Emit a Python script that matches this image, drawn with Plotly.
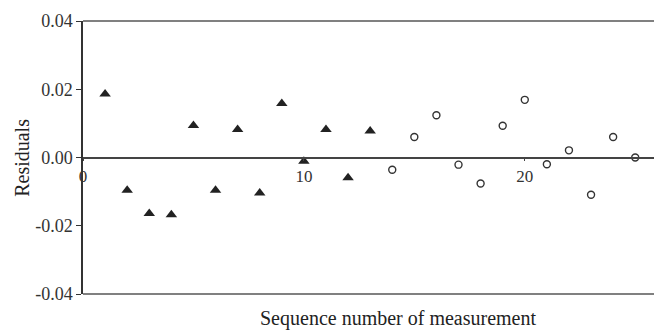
import plotly.graph_objects as go

# Data
tri_x = [1, 2, 3, 4, 5, 6, 7, 8, 9, 10, 11, 12, 13]
tri_y = [0.0186, -0.0096, -0.0164, -0.0168, 0.0094, -0.0096, 0.0082,
         -0.0104, 0.0158, -0.0011, 0.0082, -0.0059, 0.0078]
circ_x = [14, 15, 16, 17, 18, 19, 20, 21, 22, 23, 24, 25]
circ_y = [-0.0036, 0.0060, 0.0124, -0.0021, -0.0076, 0.0093, 0.0169,
          -0.0020, 0.0021, -0.0109, 0.0060, 0.0000]
x_ticks = [0, 10, 20]
y_ticks = [-0.04, -0.02, 0.0, 0.02, 0.04]
y_tick_text = ["-0.04", "-0.02", "0.00", "0.02", "0.04"]

FONT = "Liberation Serif, Times New Roman, serif"

fig = go.Figure()
fig.add_trace(go.Scatter(
    x=tri_x, y=tri_y, mode="markers",
    marker=dict(symbol="triangle-up", size=10, color="#222222"),
    showlegend=False, cliponaxis=False))
fig.add_trace(go.Scatter(
    x=circ_x, y=circ_y, mode="markers",
    marker=dict(symbol="circle-open", size=7, color="#333333",
                line=dict(width=1.4, color="#333333")),
    showlegend=False, cliponaxis=False))

fig.update_layout(
    width=655, height=333,
    margin=dict(l=83, r=1, t=21, b=39, autoexpand=False),
    plot_bgcolor="white", paper_bgcolor="white",
    font=dict(family=FONT, size=18, color="#333333"),
    xaxis=dict(
        range=[0, 25.85], tickvals=x_ticks, ticktext=[str(v) for v in x_ticks],
        anchor="free", position=0.5, showline=True, linecolor="#444444",
        linewidth=1.5, ticks="outside", ticklen=3, tickwidth=1,
        tickcolor="#444444", showgrid=False, zeroline=False, automargin=False,
        tickfont=dict(size=17, color="#333333")),
    yaxis=dict(
        range=[-0.04, 0.04], tickvals=y_ticks, ticktext=y_tick_text,
        showline=True, linecolor="#333333", linewidth=1.5,
        ticks="outside", ticklen=5, tickcolor="#333333", automargin=False,
        showgrid=False, zeroline=False,
        tickfont=dict(size=18, color="#333333")),
    shapes=[
        dict(type="line", xref="paper", yref="paper", x0=0, x1=1, y0=1, y1=1,
             line=dict(color="#808080", width=2)),
        dict(type="line", xref="paper", yref="paper", x0=0, x1=1, y0=0, y1=0,
             line=dict(color="#808080", width=2)),
    ],
    annotations=[
        dict(text="Residuals", xref="paper", yref="paper", x=-0.108, y=0.5,
             textangle=-90, showarrow=False, xanchor="center", yanchor="middle",
             font=dict(size=20, family=FONT, color="#222222")),
        dict(text="Sequence number of measurement", xref="paper", yref="paper",
             x=0.552, y=-0.09, showarrow=False, xanchor="center", yanchor="middle",
             font=dict(size=20, family=FONT, color="#222222")),
    ],
)

fig.write_html("out.html",
               config={"displayModeBar": False},
               post_script="document.body.style.margin='0px';document.body.style.overflow='hidden';")
